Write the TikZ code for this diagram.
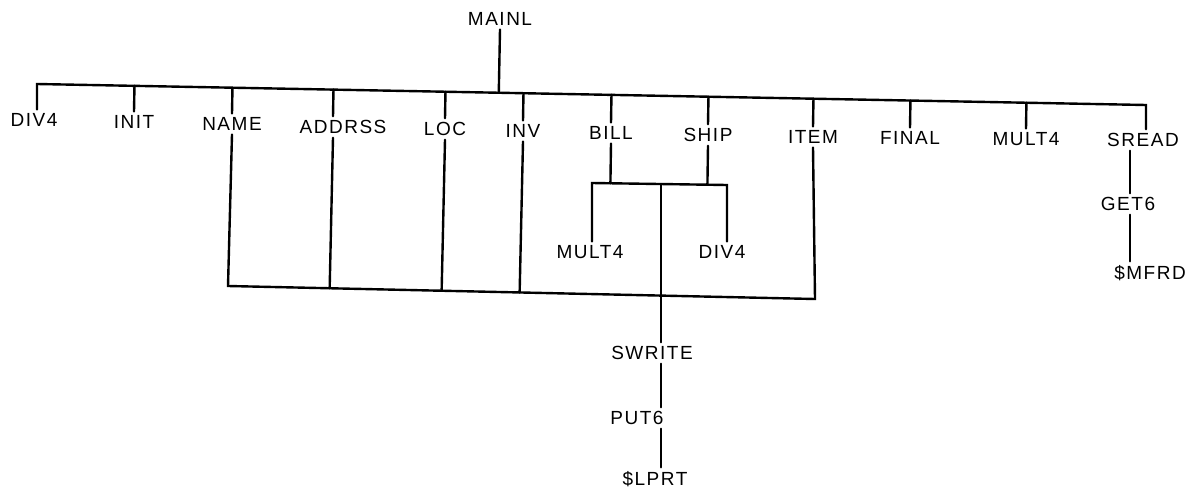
\documentclass[tikz,border=0pt]{standalone}
\usepackage{fontspec}
\setmainfont{Liberation Sans}[LetterSpace=8]
\usetikzlibrary{calc}
\begin{document}
\begin{tikzpicture}[x=1pt,y=-1pt,
  lbl/.style={inner sep=4pt,outer sep=0pt,font=\fontsize{19}{22}\selectfont},
  wire/.style={line width=2.4pt,line cap=round,line join=miter}]
\useasboundingbox (0,0) rectangle (1202,490);
% top level
\node[lbl] (mainl) at (500,19) {MAINL};
\node[lbl] (d4) at (34,120) {DIV4};
\node[lbl] (init) at (134,122) {INIT};
\node[lbl] (name) at (232,124) {NAME};
\node[lbl] (addr) at (343,127) {ADDRSS};
\node[lbl] (loc) at (445,129) {LOC};
\node[lbl] (inv) at (523,131) {INV};
\node[lbl] (bill) at (611,133) {BILL};
\node[lbl] (ship) at (708,135) {SHIP};
\node[lbl] (item) at (813,137) {ITEM};
\node[lbl] (final) at (910,138) {FINAL};
\node[lbl] (mult) at (1026,139) {MULT4};
\node[lbl] (sread) at (1143,140) {SREAD};
\node[lbl] (get6) at (1128,204) {GET6};
\node[lbl] (mfrd) at (1150,273) {\$MFRD};
\node[lbl] (multb) at (590,252) {MULT4};
\node[lbl] (divb) at (722,252) {DIV4};
\node[lbl] (swrite) at (652,353) {SWRITE};
\node[lbl] (put6) at (637,418) {PUT6};
\node[lbl] (lprt) at (655,479) {\$LPRT};
% bus coordinates
\coordinate (L) at (37,84);
\coordinate (R) at (1146,105);
\coordinate (B1) at (228,286);
\coordinate (B2) at (815,299);
\coordinate (C1) at (592,183);
\coordinate (C2) at (727,185);
\coordinate (M) at (661,184);
\coordinate (G) at (1130,150);
% top bus
\draw[wire] (L |- d4.north) -- (L) -- (R) -- (R |- sread.north);
\draw[wire] (mainl.south) -- ($(L)!(mainl.south)!(R)$);
\foreach \n in {init,name,loc,inv,bill,ship,item,final,mult}
  \draw[wire] ($(L)!(\n.north)!(R)$) -- (\n.north);
\coordinate (A) at (333,0);
\draw[wire] ($(L)!(A |- addr.north)!(R)$) -- (A |- addr.north);
% bottom bus
\draw[wire] (name.south) -- (B1) -- (B2) -- (item.south);
\foreach \n in {loc,inv}
  \draw[wire] (\n.south) -- ($(B1)!(\n.south)!(B2)$);
\draw[wire] (A |- addr.south) -- ($(B1)!(A |- addr.south)!(B2)$);
% bill/ship bracket
\draw[wire] (C1 |- multb.north) -- (C1) -- (C2) -- (C2 |- divb.north);
\draw[wire] (bill.south) -- ($(C1)!(bill.south)!(C2)$);
\draw[wire] (ship.south) -- ($(C1)!(ship.south)!(C2)$);
\draw[wire] (M) -- (M |- swrite.north);
\draw[wire] (M |- swrite.south) -- (M |- put6.north);
\draw[wire] (M |- put6.south) -- (M |- lprt.north);
% sread chain
\draw[wire] (G |- sread.south) -- (G |- get6.north);
\draw[wire] (G |- get6.south) -- (G |- mfrd.north);
\end{tikzpicture}
\end{document}
